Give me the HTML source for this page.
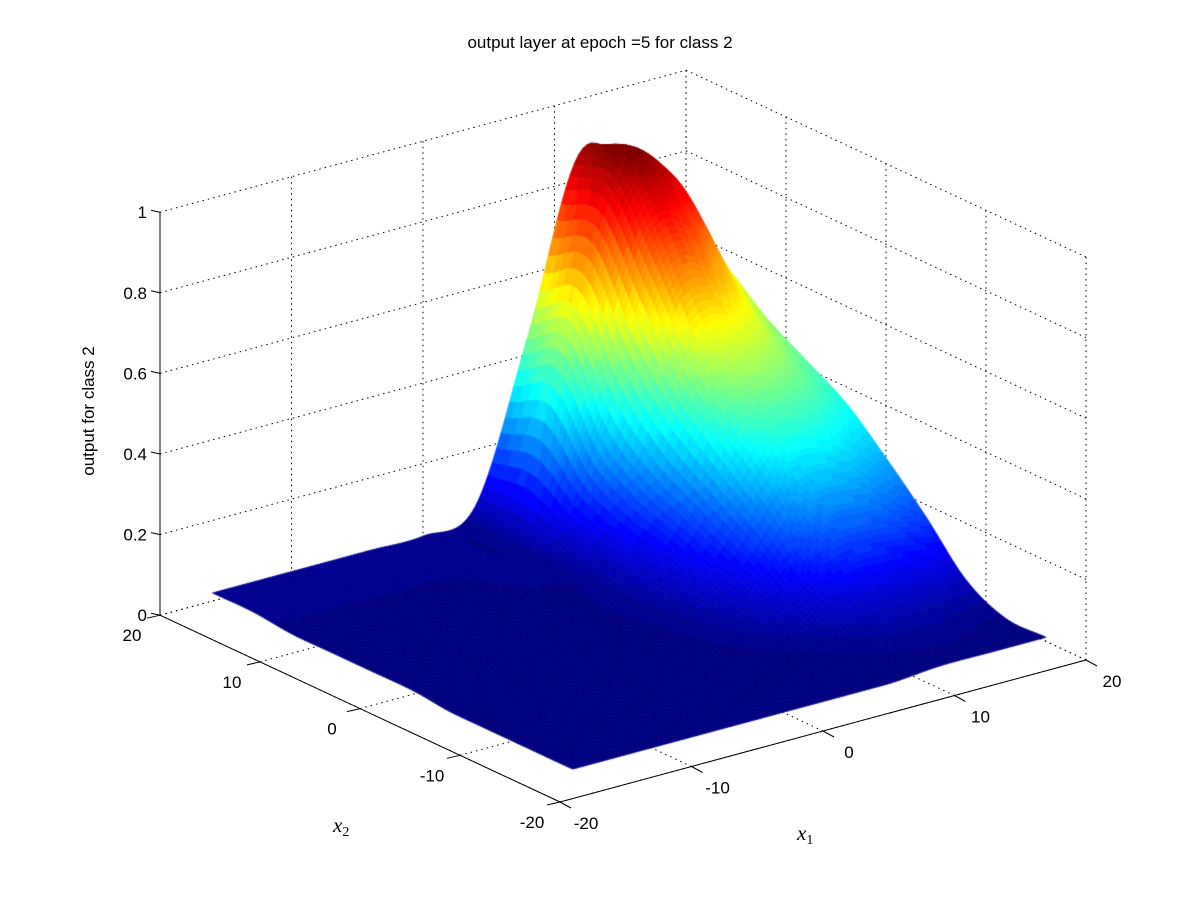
<!DOCTYPE html>
<html><head><meta charset="utf-8"><style>
html,body{margin:0;padding:0;background:#fff;}
#wrap{position:relative;width:1201px;height:901px;overflow:hidden;}
svg,canvas{position:absolute;left:0;top:0;}
text{font-family:"Liberation Sans",sans-serif;font-size:17px;fill:#000;}
.m{font-family:"Liberation Serif",serif;font-style:italic;font-size:21px;}
</style></head><body>
<div id="wrap">
<svg id="back" width="1201" height="901"></svg>
<canvas id="cv" width="1201" height="901"></canvas>
<svg id="front" width="1201" height="901">
<text x="600" y="48" text-anchor="middle">output layer at epoch =5 for class 2</text>
<text transform="translate(94,411) rotate(-90)" text-anchor="middle">output for class 2</text>
<text class="m" x="333" y="832">x<tspan font-size="14" dy="4" font-style="normal">2</tspan></text>
<text class="m" x="797" y="840">x<tspan font-size="14" dy="4" font-style="normal">1</tspan></text>
</svg>
</div>
<script>
const x1Grid=[-16,-12,-8,-4,0,4,8,12,16,20];
const x2Grid=[-16,-12,-8,-4,0,4,8,12,16,20];
// rows: x2 (ascending), columns: x1 (ascending)
const zRow0=[0,0,0,0,0,0,0,0.01,0.01,0.01];
const zRow1=[0,0,0,0,0,0,0.01,0.02,0.02,0.01];
const zRow2=[0,0,0,0,0,0.01,0.03,0.07,0.07,0.06];
const zRow3=[0,0,0,0,0.01,0.02,0.08,0.19,0.20,0.17];
const zRow4=[0.01,0.01,0.01,0.01,0.01,0.03,0.13,0.31,0.32,0.27];
const zRow5=[0.01,0.01,0.01,0.01,0.01,0.04,0.18,0.42,0.43,0.36];
const zRow6=[0.01,0.01,0.01,0.01,0.01,0.04,0.23,0.54,0.53,0.42];
const zRow7=[0.01,0.01,0.01,0.01,0.02,0.05,0.32,0.72,0.66,0.48];
const zRow8=[0.02,0.02,0.02,0.02,0.02,0.06,0.50,0.88,0.82,0.56];
const zRow9=[0.02,0.02,0.02,0.02,0.02,0.06,0.45,0.87,0.76,0.60];
const zTicks=[0,0.2,0.4,0.6,0.8,1];
const zTickLabels=["0","0.2","0.4","0.6","0.8","1"];
const xTicks=[-20,-10,0,10,20];
const xTickLabels=["-20","-10","0","10","20"];

const Z=[zRow0,zRow1,zRow2,zRow3,zRow4,zRow5,zRow6,zRow7,zRow8,zRow9];
function sx(a,b,z){return 623+13.15*a-10*b;}
function sy(a,b,z){return 637.6-3.55*a-4.67*b-403*z;}
const NS='http://www.w3.org/2000/svg';
const back=document.getElementById('back'),front=document.getElementById('front');
function line(p,x1,y1,x2,y2,dot,name){
  const l=document.createElementNS(NS,'line');
  l.setAttribute('x1',x1);l.setAttribute('y1',y1);l.setAttribute('x2',x2);l.setAttribute('y2',y2);
  l.setAttribute('stroke','#000');l.setAttribute('stroke-width','1');
  if(dot)l.setAttribute('stroke-dasharray','1.5,4');
  
  
  p.appendChild(l);
}
function txt(x,y,s,anchor,name){
  const t=document.createElementNS(NS,'text');
  t.setAttribute('x',x);t.setAttribute('y',y);t.setAttribute('text-anchor',anchor);
  t.textContent=s;
  
  
  front.appendChild(t);
}
zTicks.forEach(z=>{
  line(back,sx(-20,20),sy(-20,20,z),sx(20,20),sy(20,20,z),true,'z-gridline');
  line(back,sx(20,20),sy(20,20,z),sx(20,-20),sy(20,-20,z),true,'z-gridline');
});
xTicks.forEach(v=>{
  line(back,sx(v,20),sy(v,20,0),sx(v,20),sy(v,20,1),true,'x1-wall-gridline');
  line(back,sx(20,v),sy(20,v,0),sx(20,v),sy(20,v,1),true,'x2-wall-gridline');
  line(back,sx(v,-20),sy(v,-20,0),sx(v,20),sy(v,20,0),true,'x1-floor-gridline');
  line(back,sx(-20,v),sy(-20,v,0),sx(20,v),sy(20,v,0),true,'x2-floor-gridline');
});
function cr(p0,p1,p2,p3,t){return 0.5*(2*p1+(-p0+p2)*t+(2*p0-5*p1+4*p2-p3)*t*t+(-p0+3*p1-3*p2+p3)*t*t*t);}
function gz(i,j){i=Math.max(0,Math.min(9,i));j=Math.max(0,Math.min(9,j));return Z[i][j];}
function interp(u,v){
  const j=Math.min(8,Math.floor(u)),i=Math.min(8,Math.floor(v));const tu=u-j,tv=v-i;
  const r=[];for(let k=-1;k<3;k++)r.push(cr(gz(i+k,j-1),gz(i+k,j),gz(i+k,j+1),gz(i+k,j+2),tu));
  return cr(r[0],r[1],r[2],r[3],tv);
}
const N=110;let zmin=1e9,zmax=-1e9;const P=[];
for(let a=0;a<=N;a++){P.push([]);for(let b=0;b<=N;b++){
  const u=9*a/N,v=9*b/N;const z=Math.max(0,interp(u,v));
  const x1=x1Grid[0]+(x1Grid[9]-x1Grid[0])*a/N,x2=x2Grid[0]+(x2Grid[9]-x2Grid[0])*b/N;
  P[a].push([x1,x2,z]);zmin=Math.min(zmin,z);zmax=Math.max(zmax,z);}}
function jet(t){const c=x=>Math.round(255*Math.max(0,Math.min(1,x)));
  return 'rgb('+c(1.5-Math.abs(4*t-3))+','+c(1.5-Math.abs(4*t-2))+','+c(1.5-Math.abs(4*t-1))+')';}
const quads=[];
for(let a=0;a<N;a++)for(let b=0;b<N;b++){
  const q=[P[a][b],P[a+1][b],P[a+1][b+1],P[a][b+1]];
  const x1=(q[0][0]+q[2][0])/2,x2=(q[0][1]+q[2][1])/2,z=(q[0][2]+q[1][2]+q[2][2]+q[3][2])/4;
  quads.push({q,d:3.55*x1+4.67*x2,z});}
quads.sort((p,q)=>q.d-p.d);
const ctx=document.getElementById('cv').getContext('2d');
quads.forEach(o=>{
  let t=(o.z-zmin)/(zmax-zmin);t=Math.min(63,Math.floor(t*64))/63;
  const col=jet(t);ctx.fillStyle=col;ctx.strokeStyle=col;ctx.lineWidth=0.8;
  ctx.beginPath();o.q.forEach((p,k)=>{const X=sx(p[0],p[1]),Y=sy(p[0],p[1],p[2]);k?ctx.lineTo(X,Y):ctx.moveTo(X,Y);});
  ctx.closePath();ctx.fill();ctx.stroke();});
line(front,sx(-20,20),sy(-20,20,0),sx(-20,20),sy(-20,20,1),false,'z-axis-line');
line(front,sx(-20,20),sy(-20,20,0),sx(-20,-20),sy(-20,-20,0),false,'x2-axis-line');
line(front,sx(-20,-20),sy(-20,-20,0),sx(20,-20),sy(20,-20,0),false,'x1-axis-line');
zTicks.forEach((z,k)=>{const X=sx(-20,20),Y=sy(-20,20,z);
  line(front,X,Y,X-9,Y-2,false,'z-tick');txt(X-13,Y+6,zTickLabels[k],'end','z-tick-label');});
xTicks.forEach((v,k)=>{
  let X=sx(-20,v),Y=sy(-20,v,0);line(front,X,Y,X-13,Y+3,false,'x2-tick');
  txt(X-28,Y+26,xTickLabels[k],'middle','x2-tick-label');
  X=sx(v,-20);Y=sy(v,-20,0);line(front,X,Y,X+11,Y+6,false,'x1-tick');
  txt(X+26,Y+27,xTickLabels[k],'middle','x1-tick-label');
});
</script>
</body></html>
